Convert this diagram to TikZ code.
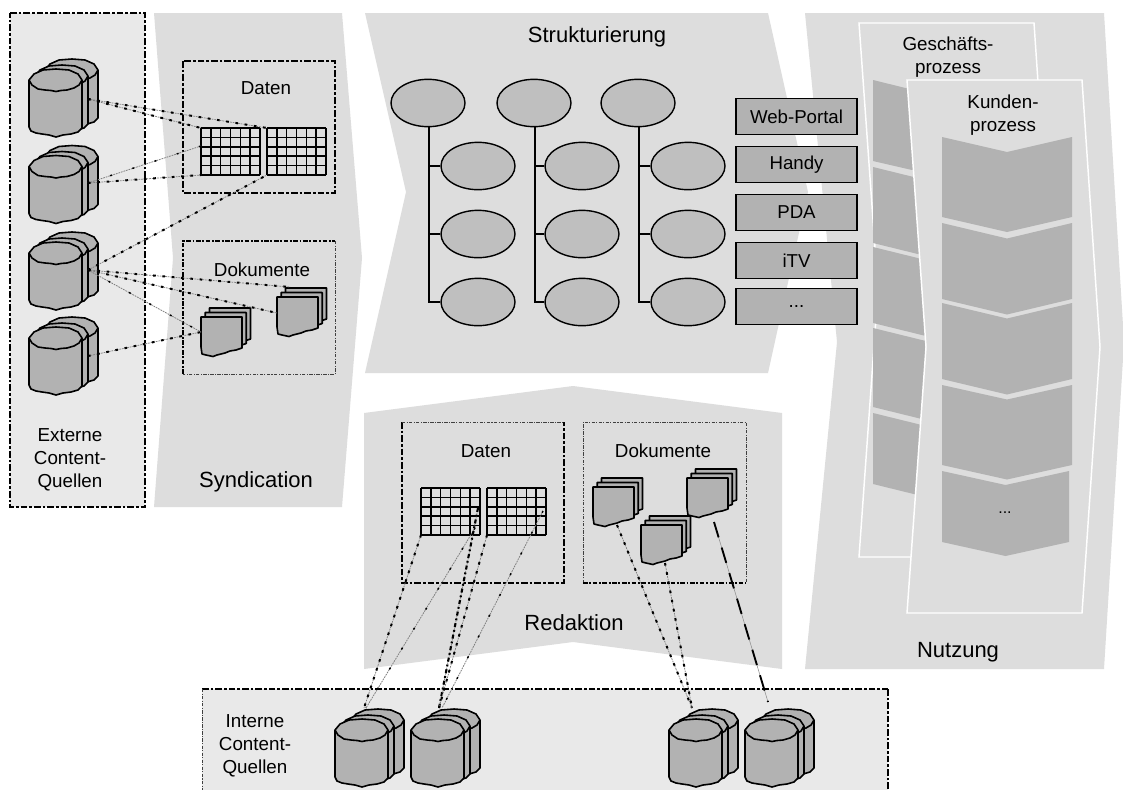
\documentclass[tikz,border=0pt]{standalone}
\usepackage{fontspec}
\setmainfont{Liberation Sans}
\usetikzlibrary{shapes.geometric,fit}
\definecolor{panel}{HTML}{DDDDDD}
\definecolor{extpanel}{HTML}{E9E9E9}
\definecolor{item}{HTML}{B2B2B2}
\definecolor{ell}{HTML}{BFBFBF}
\tikzset{
  x=0.75pt,y=-0.75pt,
  panelshape/.style={fill=panel,draw=none},
  flowbox/.style={fill=panel,draw=white,line width=1.1pt},
  chevshape/.style={fill=item,draw=none},
  bold dash/.style={draw=black,line width=2pt,dash pattern=on 5pt off 1.5pt on 2pt off 1.5pt},
  med dash/.style={draw=black,line width=1.5pt,dash pattern=on 3.5pt off 1.2pt on 1.4pt off 1.2pt},
  thin dash/.style={draw=black!75,line width=0.6pt,dash pattern=on 2.5pt off 1pt on 0.8pt off 1pt},
  itemline/.style={draw=black,fill=item,line width=1.2pt,line join=round},
  gridline/.style={draw=black,line width=1.1pt},
  anchorbox/.style={inner sep=0pt,outer sep=0pt,draw=none},
  ellnode/.style={ellipse,draw=black,fill=ell,line width=1.05pt,minimum width=55.5pt,minimum height=35.5pt,inner sep=0pt},
  treeline/.style={draw=black,line width=1.1pt},
  outbox/.style={draw=black,fill=item,line width=1.1pt,minimum width=91pt,minimum height=27pt,inner sep=0pt,font=\fontsize{14}{16}\selectfont},
  big/.style={font=\fontsize{16.5}{19}\selectfont,inner sep=0pt,align=center},
  mid/.style={font=\fontsize{14.1}{17.3}\selectfont,inner sep=0pt,align=center},
  conn/.style={draw=black!50,line width=0.55pt,dash pattern=on 1.3pt off 0.7pt,
     postaction={draw=black,line width=1.5pt,dash pattern=on 2pt off 5pt}},
  connstrong/.style={draw=black!50,line width=0.55pt,dash pattern=on 1.3pt off 0.7pt,
     postaction={draw=black,line width=1.6pt,dash pattern=on 3pt off 2.2pt on 1.4pt off 2.2pt}},
  connlight/.style={draw=black!50,line width=0.6pt,dash pattern=on 1.3pt off 0.7pt,
     postaction={draw=black,line width=1.1pt,dash pattern=on 1.5pt off 16pt}},
  connlong/.style={draw=black!45,line width=0.4pt,
     postaction={draw=black,line width=1.4pt,dash pattern=on 12pt off 8pt}},
}
\newcommand{\cylone}[2]{%
  \begin{scope}[shift={(#1,#2)}]
  \path[itemline] (0,0)--(0,47)--(2,51)--(7,53)--(13,54)--(20,55)--(27,57)--(34,55)--(42,54)--(49,52)--(53,48)--(53,0)--(49,-6)--(40,-10)--(27,-11)--(14,-10)--(5,-6)--cycle;
  \draw[itemline,fill=none] (0,0)--(3,5)--(9,9)--(16,10)--(22,10.5)--(27,11.5)--(32,10.5)--(38,10)--(45,8)--(50,5)--(53,0);
  \end{scope}}
\newcommand{\cylstack}[3]{%
  \cylone{#2+16}{#3-10}\cylone{#2+6}{#3-4}\cylone{#2}{#3}%
  \node[anchorbox,fit={(#2,#3-11)(#2+69,#3+57)}] (#1) {};}
\newcommand{\docone}[2]{%
  \begin{scope}[shift={(#1,#2)}]
  \path[itemline] (0,0)--(41,0)--(41,31)--(35,33)--(29,34)--(24,36)--(16,38)--(12,39.5)--(5,38)--(1,37)--(0,30)--cycle;
  \end{scope}}
\newcommand{\docstack}[3]{%
  \docone{#2+8.5}{#3-9}\docone{#2+4.2}{#3-4.5}\docone{#2}{#3}%
  \node[anchorbox,fit={(#2,#3-9)(#2+49.5,#3+39.5)}] (#1) {};}
\newcommand{\datagrid}[3]{%
  \foreach \i in {0,...,6} {\draw[gridline] (#2+\i*9.83,#3)--(#2+\i*9.83,#3+47);}
  \foreach \j in {0,...,5} {\draw[gridline] (#2,#3+\j*9.4)--(#2+59,#3+\j*9.4);}
  \node[anchorbox,fit={(#2,#3)(#2+59,#3+47)}] (#1) {};}
\newcommand{\chev}[5]{% x,w,top,bottom,dip
  \path[chevshape] (#1,#3)--(#1+#2/2,#3+#5)--(#1+#2,#3)--(#1+#2,#4)--(#1+#2/2,#4+#5)--(#1,#4)--cycle;}
\begin{document}
\begin{tikzpicture}
\clip (0,0) rectangle (1123,789);
\fill[white] (0,0) rectangle (1123,789);
% panels
\path[panelshape] (154,13)--(342,13)--(362,258)--(342,507)--(154,507)--(173,258)--cycle;
\path[panelshape] (365,13)--(768,13)--(808,192)--(768,373)--(365,373)--(406,192)--cycle;
\path[panelshape] (805,13)--(1104,13)--(1124,342)--(1104,669)--(805,669)--(837,342)--cycle;
\path[panelshape] (364,413)--(573,386)--(782,413)--(782,669)--(573,642)--(364,669)--cycle;
% outer content boxes
\node[anchorbox,fill=extpanel,fit={(10,13)(145,507)}] (ext) {};
\node[anchorbox,fill=extpanel,fit={(202,689)(888,800)}] (int) {};
\draw[bold dash] (ext.north west) -- (ext.north east) -- (ext.south east) -- (ext.south west) -- cycle;
\draw[bold dash] (int.north west) -- (int.north east);
\draw[bold dash] (int.north east) -- (int.south east);
\draw[thin dash] (int.north west) -- (int.south west);
% syndication boxes
\node[anchorbox,fit={(183,61)(335,193)}] (sd) {};
\node[anchorbox,fit={(183,241)(335,374)}] (sk) {};
\draw[bold dash] (sd.north west) rectangle (sd.south east);
\draw[med dash] (sk.south west) -- (sk.north west) -- (sk.north east);
\draw[thin dash] (sk.north east) -- (sk.south east) -- (sk.south west);
% redaktion boxes
\node[anchorbox,fit={(402,422)(564,583)}] (rd) {};
\node[anchorbox,fit={(583,422)(746,583)}] (rk) {};
\draw[bold dash] (rd.north west) -- (rd.south west) -- (rd.south east) -- (rd.north east);
\draw[thin dash] (rd.north west) -- (rd.north east);
\draw[thin dash] (rk.south west) -- (rk.north west) -- (rk.north east) -- (rk.south east);
\draw[med dash] (rk.south west) -- (rk.south east);
% Nutzung flows
\path[flowbox] (859,23)--(1034,23)--(1052,290)--(1034,557)--(859,557)--(878,290)--cycle;
\path[chevshape] (873,80)--(938,96)--(1003,80)--(1003,161)--(938,176)--(873,161)--cycle;
\chev{873}{130}{167}{243}{16}
\chev{873}{130}{247}{323}{16}
\chev{873}{130}{328}{407}{16}
\chev{873}{130}{413}{484}{16}
\path[flowbox] (907,80)--(1082,80)--(1100,347)--(1082,613)--(907,613)--(926,347)--cycle;
\chev{942}{130}{137}{217}{15}
\chev{942}{130}{223}{299}{15.5}
\chev{942}{130}{303}{379}{15.5}
\chev{942}{130}{385}{465}{14.5}
\chev{942}{127}{471}{542}{14}
\node[mid,font=\fontsize{12}{14}\selectfont] (dots3) at (1005,513) {...};
% items: sources
\cylstack{e1}{29}{80}
\cylstack{e2}{29}{166.5}
\cylstack{e3}{29}{253}
\cylstack{e4}{29}{338}
\cylstack{i1}{335}{730}
\cylstack{i2}{411}{730}
\cylstack{i3}{669}{730}
\cylstack{i4}{745}{730}
% grids and docs
\datagrid{gA}{201}{128}
\datagrid{gB}{267}{128}
\datagrid{gC}{421}{488}
\datagrid{gD}{487}{488}
\docstack{dA}{201}{317}
\docstack{dB}{277}{297}
\docstack{dC}{593}{487}
\docstack{dD}{641}{525}
\docstack{dE}{687}{478}
% tree
\node[ellnode] (t1) at (428,103) {};
\node[ellnode] (t2) at (534,103) {};
\node[ellnode] (t3) at (638,103) {};
\foreach \n/\cx in {1/478,2/582,3/688}{
  \node[ellnode] (s\n a) at (\cx,166) {};
  \node[ellnode] (s\n b) at (\cx,234) {};
  \node[ellnode] (s\n c) at (\cx,302) {};
}
\foreach \n in {1,2,3}{
  \draw[treeline] ([xshift=0.7pt]t\n.south) -- ([xshift=0.7pt]t\n.south |- s\n c.west) -- (s\n c.west);
  \draw[treeline] ([xshift=0.7pt]t\n.south |- s\n a.west) -- (s\n a.west);
  \draw[treeline] ([xshift=0.7pt]t\n.south |- s\n b.west) -- (s\n b.west);
}
% output boxes
\node[outbox] (o1) at (796.5,116.5) {Web-Portal};
\node[outbox] (o2) at (796.5,164.5) {Handy};
\node[outbox] (o3) at (796.5,212.5) {PDA};
\node[outbox] (o4) at (796.5,260.5) {iTV};
\node[outbox] (o5) at (796.5,306.5) {...};
% ports
\coordinate (e1q) at (88,99);
\coordinate (e2q) at (88,183);
\coordinate (e3q) at (88,270);
\coordinate (e4q) at (88,356);
\coordinate (gCin) at (475,528);
\coordinate (gCr) at (478,508);
\coordinate (gDin) at (543,511);
\coordinate (gAw) at (201,146);
\coordinate (dBt) at (290,287);
\coordinate (dBw) at (277,313);
\coordinate (dAw) at (201,332);
\coordinate (dCb) at (617,525);
\coordinate (dDb) at (665,563);
\coordinate (dEb) at (714,522);
\coordinate (i1t) at (364,708);
\coordinate (i1u) at (366,708);
\coordinate (i2t) at (439,708);
\coordinate (i2u) at (442,708);
\coordinate (i3t) at (692,708);
\coordinate (i4t) at (768,702);
% connectors
\draw[conn] (e1q) -- (gA.north west);
\draw[conn] (e1q) -- (gB.north west);
\draw[connlight] (e2q) -- (gAw);
\draw[conn] (e2q) -- (gA.south west);
\draw[conn] (e3q) -- (gB.south west);
\draw[conn] (e3q) -- (dBt);
\draw[conn] (e3q) -- (dBw);
\draw[connlight] (e3q) -- (dAw);
\draw[conn] (e4q) -- (dAw);
\draw[conn] (gC.south west) -- (i1t);
\draw[connlight] (gCin) -- (i1u);
\draw[connstrong] (gCr) -- (i2t);
\draw[conn] (gD.south west) -- (i2t);
\draw[connlight] (gDin) -- (i2u);
\draw[conn] (dCb) -- (i3t);
\draw[conn] (dDb) -- (i3t);
\draw[connlong] (dEb) -- (i4t);
% labels
\node[big] (lsyn) at (256,482) {Syndication};
\node[big] (lstr) at (597,37) {Strukturierung};
\node[big] (lred) at (574,623) {Redaktion};
\node[big] (lnut) at (958,652) {Nutzung};
\node[mid] (ld1) at (266,88) {Daten};
\node[mid] (lk1) at (262,270) {Dokumente};
\node[mid] (ld2) at (486,451) {Daten};
\node[mid] (lk2) at (663,451) {Dokumente};
\node[mid] (lext) at (70,460) {Externe\\Content-\\Quellen};
\node[mid] (lint) at (255,746) {Interne\\Content-\\Quellen};
\node[mid] (lges) at (948,57) {Geschäfts-\\prozess};
\node[mid] (lkun) at (1003,115) {Kunden-\\prozess};
\end{tikzpicture}
\end{document}
